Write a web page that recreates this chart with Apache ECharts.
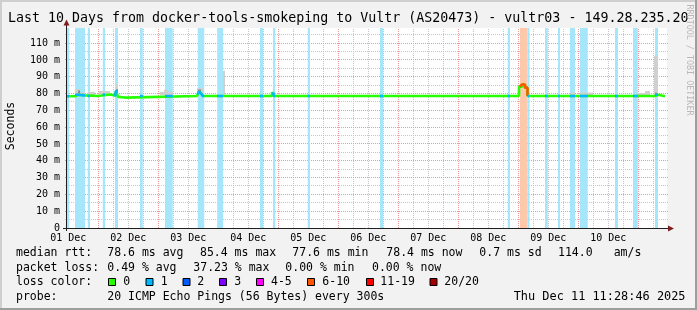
<!DOCTYPE html>
<html>
<head>
<meta charset="utf-8">
<script src="https://cdn.jsdelivr.net/npm/echarts@6/dist/echarts.min.js"></script>
<style>
html,body{margin:0;padding:0;background:#f2f2f2;}
#c{width:697px;height:310px;}
</style>
</head>
<body>
<div id="c"></div>
<script>
// ---------------- data ----------------
const titleText = 'Last 10 Days from docker-tools-smokeping to Vultr (AS20473) - vultr03 - 149.28.235.20';
// x values are hours since chart start (Mon Dec 01 11:28:46)
const dayLabels = ['01 Dec','02 Dec','03 Dec','04 Dec','05 Dec','06 Dec','07 Dec','08 Dec','09 Dec','10 Dec'];
const dayNoonHours = [0.52, 24.52, 48.52, 72.52, 96.52, 120.52, 144.52, 168.52, 192.52, 216.52];
const midnightHours = [12.52, 36.52, 60.52, 84.52, 108.52, 132.52, 156.52, 180.52, 204.52, 228.52];
const yTickValues = [0, 10, 20, 30, 40, 50, 60, 70, 80, 90, 100, 110];

// loss colour classes
const lossNames  = ['0', '1', '2', '3', '4-5', '6-10', '11-19', '20/20'];
const lossColors = ['#26ff00', '#00b8ff', '#0059ff', '#7e00ff', '#ff00ff', '#ff5500', '#ff0000', '#a10000'];
const lossBandColors = ['#ffffff', '#a6e6fb', '#a6c5ff', '#d2a6ff', '#ffa6ff', '#ffc8aa', '#ffa6a6', '#dca6a6'];

// packet loss periods: [startHour, endHour, lossClassIndex]
const lossBands = [
  [0.0, 0.9, 1], [3.2, 7.2, 1], [8.3, 9.2, 1], [14.3, 15.2, 1], [19.2, 20.4, 1],
  [29.2, 30.3, 1], [39.2, 42.3, 1], [52.3, 54.9, 1], [60.1, 62.4, 1], [77.2, 78.4, 1],
  [82.4, 83.3, 1], [96.3, 97.2, 1], [125.2, 126.4, 1], [176.3, 177.2, 1],
  [181.2, 184.3, 5], [184.4, 185.0, 1],
  [191.2, 192.3, 1], [196.4, 197.2, 1], [201.2, 203.2, 1], [205.2, 208.3, 1],
  [219.2, 220.4, 1], [226.4, 228.3, 1], [235.2, 236.4, 1]
];

// median rtt in ms (step changes): [hour, ms]
const medianPts = [
  [0, 78.4], [3.2, 79.3], [4.4, 78.9], [7.2, 78.5], [12.4, 79.0], [13.2, 79.4], [17.2, 78.8], [19.2, 78.3],
  [19.6, 81.5], [20.4, 78.0], [21.2, 77.6], [23.2, 78.5],
  [52.0, 79.4], [52.8, 81.2], [53.6, 80.0], [54.4, 78.5],
  [82.0, 80.8], [82.8, 78.5],
  [180.8, 84.1], [182.0, 85.4], [183.2, 83.5], [184.2, 78.5],
  [235.2, 79.3], [236.4, 78.4], [239.2, 78.4]
];

// smoke (ping spread): [startHour, endHour, lowMs, highMs]
const smokeLight = [
  [3.6, 5.2, 79.0, 82.6], [5.2, 7.2, 79.0, 80.6], [8.4, 11.2, 79.0, 81.0], [12.8, 17.2, 79.5, 81.5],
  [19.6, 20.4, 79.0, 85.6], [37.2, 42.4, 79.0, 81.0], [38.8, 40.4, 80.6, 82.2], [52.0, 54.4, 80.0, 83.2],
  [62.4, 63.2, 79.0, 93.5], [201.2, 203.2, 79.0, 80.6], [205.2, 210.4, 79.0, 80.6],
  [228.0, 231.2, 79.0, 80.3], [231.2, 233.2, 79.0, 81.5], [234.8, 236.4, 79.0, 102.4]
];
const smokeDark = [
  [4.4, 5.2, 80.0, 81.8], [19.6, 20.4, 79.5, 82.5], [52.4, 53.6, 81.0, 82.4], [235.2, 236.0, 79.0, 80.5]
];

// legend statistics
const rttStatValues = [78.6, 85.4, 77.6, 78.4];
const rttStatNames  = ['avg', 'max', 'min', 'now'];
const rttSd = 0.7;
const rttAms = 114.0;
const lossStatValues = [0.49, 37.23, 0.00, 0.00];
const lossStatNames  = ['avg', 'max', 'min', 'now'];
const probeText = '20 ICMP Echo Pings (56 Bytes) every 300s';
const dateText = 'Thu Dec 11 11:28:46 2025';

// ---------------- layout ----------------
const GL = 67, GT = 28, GW = 600, GH = 200;
const XMAX = 240, YMAX = 119;
const MONO = "'DejaVu Sans Mono', monospace";
const FONT_COLOR = '#000000';
const GRID_COLOR = '#c6c6c6';
const MGRID_COLOR = '#eb9a9a';

// grid lines (layout): [kind, value]; kind 0 = vertical minor, 1 = vertical major, 2 = horizontal minor, 3 = horizontal major
const gridLines = [];
for (let h = 0.52; h < XMAX; h += 6) {
  const major = midnightHours.some(m => Math.abs(m - h) < 1e-6);
  gridLines.push([major ? 1 : 0, h]);
}
for (let v = 5; v < YMAX; v += 5) {
  gridLines.push([v % 10 === 0 ? 3 : 2, v]);
}

// median value holding at hour h (step function of medianPts)
function medianAt(h) {
  let v = medianPts[0][1];
  for (const p of medianPts) { if (p[0] <= h) v = p[1]; else break; }
  return v;
}
// median segments during loss periods, coloured by loss class
const lossSegments = lossBands.map(b => {
  const pts = [[b[0], medianAt(b[0])]];
  medianPts.forEach(p => { if (p[0] > b[0] && p[0] < b[1]) pts.push([p[0], p[1]]); });
  pts.push([b[1], medianAt(b[1] - 1e-9)]);
  return {pts: pts, level: b[2]};
});

const chart = echarts.init(document.getElementById('c'), null, {renderer: 'canvas'});

const graphics = [];
// frame
graphics.push({type:'rect', shape:{x:0,y:0,width:697,height:2}, style:{fill:'#cfcfcf'}, silent:true});
graphics.push({type:'rect', shape:{x:0,y:0,width:2,height:310}, style:{fill:'#cfcfcf'}, silent:true});
graphics.push({type:'rect', shape:{x:0,y:308,width:697,height:2}, style:{fill:'#9e9e9e'}, silent:true});
graphics.push({type:'rect', shape:{x:695,y:0,width:2,height:310}, style:{fill:'#9e9e9e'}, silent:true});
// axes
graphics.push({type:'line', shape:{x1:63, y1:GT+GH+0.5, x2:670, y2:GT+GH+0.5}, style:{stroke:'#1f1f1f', lineWidth:1}, z:10, silent:true});
graphics.push({type:'polygon', shape:{points:[[668,GT+GH-2.5],[674,GT+GH+0.5],[668,GT+GH+3.5]]}, style:{fill:'#801f1f'}, z:11, silent:true});
graphics.push({type:'line', shape:{x1:GL-0.5, y1:GT+GH+3, x2:GL-0.5, y2:24}, style:{stroke:'#1f1f1f', lineWidth:1}, z:10, silent:true});
graphics.push({type:'polygon', shape:{points:[[GL-3.5,25.5],[GL-0.5,19.5],[GL+2.5,25.5]]}, style:{fill:'#801f1f'}, z:11, silent:true});
// title
graphics.push({type:'text', x:8, y:19, style:{text:titleText, font:'13.3px ' + MONO, fill:FONT_COLOR, verticalAlign:'middle'}, silent:true});
// axis title
graphics.push({type:'text', x:11, y:126, rotation:Math.PI/2, style:{text:'Seconds', font:'11.5px ' + MONO, fill:FONT_COLOR, align:'center', verticalAlign:'middle'}, silent:true});
// watermark
graphics.push({type:'text', x:689, y:60, rotation:-Math.PI/2, style:{text:'RRDTOOL / TOBI OETIKER', font:'8.4px ' + MONO, fill:'#b8b8b8', align:'center', verticalAlign:'middle'}, silent:true});

// legend text
const LF = '11.5px ' + MONO;
function txt(s, x, y) {
  graphics.push({type:'text', x:x, y:y, style:{text:s, font:LF, fill:FONT_COLOR, verticalAlign:'middle'}, silent:true});
}
const row1 = 253.5, row2 = 268.3, row3 = 281.7, row4 = 296.7;
txt('median rtt:', 16, row1);
const rttX = [107.3, 200, 292.3, 386.3];
rttStatValues.forEach((v, i) => txt(v.toFixed(1) + ' ms ' + rttStatNames[i], rttX[i], row1));
txt(rttSd.toFixed(1) + ' ms sd', 479.3, row1);
txt(rttAms.toFixed(1), 558, row1);
txt('am/s', 613.7, row1);
txt('packet loss:', 16, row2);
const lossX = [107.3, 193.3, 285.3, 372];
lossStatValues.forEach((v, i) => txt(v.toFixed(2) + ' % ' + lossStatNames[i], lossX[i], row2));
txt('loss color:', 16, row3);
const boxX = [108.5, 146, 183, 219.5, 256.5, 307.5, 366.5, 430];
const boxLabelX = [123.3, 160.7, 197.3, 234.3, 271, 322.3, 380.3, 444.3];
lossNames.forEach((n, i) => {
  graphics.push({type:'rect', shape:{x:boxX[i], y:278.5, width:7, height:7}, style:{fill:lossColors[i], stroke:'#000', lineWidth:1}, silent:true});
  txt(n, boxLabelX[i], row3);
});
txt('probe:', 16, row4);
txt(probeText, 107.3, row4);
graphics.push({type:'text', x:513.7, y:row4, style:{text:dateText, font:'11.9px ' + MONO, fill:FONT_COLOR, verticalAlign:'middle'}, silent:true});

function rectRenderer(fill) {
  return (params, api) => {
    const p0 = api.coord([api.value(0), api.value(3)]), p1 = api.coord([api.value(1), api.value(2)]);
    return {type:'rect', shape:{x:p0[0], y:p0[1], width:p1[0]-p0[0], height:p1[1]-p0[1]}, style:{fill:fill}};
  };
}

const series = [
  {
    name: 'grid', type: 'custom', z: 1, clip: false, silent: true,
    data: gridLines,
    renderItem: (params, api) => {
      const kind = api.value(0), v = api.value(1);
      if (kind < 2) {
        const p0 = api.coord([v, 0]), p1 = api.coord([v, YMAX]);
        const x = Math.floor(p0[0]) + 0.5;
        return {type:'line', shape:{x1:x, y1:p0[1], x2:x, y2:p1[1]},
          style:{stroke: kind === 1 ? MGRID_COLOR : GRID_COLOR, lineWidth:1, lineDash:[1,1]}};
      }
      const p0 = api.coord([0, v]), p1 = api.coord([XMAX, v]);
      const y = Math.floor(p0[1]) + 0.5;
      return {type:'line', shape:{x1:p0[0]-2, y1:y, x2:p1[0]+1, y2:y},
        style:{stroke: kind === 3 ? MGRID_COLOR : GRID_COLOR, lineWidth:1, lineDash:[1,1]}};
    }
  },
  {
    name: 'loss', type: 'custom', z: 2, silent: true,
    data: lossBands,
    encode: {x: [0, 1]},
    renderItem: (params, api) => {
      const p0 = api.coord([api.value(0), YMAX]), p1 = api.coord([api.value(1), 0]);
      return {type:'rect', shape:{x:p0[0], y:p0[1], width:p1[0]-p0[0], height:p1[1]-p0[1]},
        style:{fill: lossBandColors[api.value(2)]}};
    }
  },
  {name: 'smokeLight', type: 'custom', z: 3, silent: true, data: smokeLight, encode: {x: [0, 1], y: [2, 3]}, renderItem: rectRenderer('#d0d0d0')},
  {name: 'smokeDark', type: 'custom', z: 3, silent: true, data: smokeDark, encode: {x: [0, 1], y: [2, 3]}, renderItem: rectRenderer('#8c8c8c')},
  {
    name: 'median', type: 'line', z: 4, step: 'end', symbol: 'none', silent: true,
    data: medianPts,
    lineStyle: {width: 2.6, color: lossColors[0], opacity: 1},
    itemStyle: {color: lossColors[0]}
  }
];
lossSegments.forEach((seg, i) => {
  series.push({
    name: 'medianLoss' + i, type: 'line', z: 5, step: 'end', symbol: 'none', silent: true,
    data: seg.pts,
    lineStyle: {width: 2.6, color: lossColors[seg.level], opacity: 1},
    itemStyle: {color: lossColors[seg.level]}
  });
});

const option = {
  animation: false,
  backgroundColor: '#f2f2f2',
  grid: {left: GL, top: GT, width: GW, height: GH, show: true, backgroundColor: '#ffffff', borderWidth: 0},
  xAxis: {
    type: 'value', min: 0, max: XMAX,
    axisLine: {show: false}, axisTick: {show: false}, splitLine: {show: false},
    axisLabel: {
      customValues: dayNoonHours,
      formatter: v => { const i = dayNoonHours.findIndex(h => Math.abs(h - v) < 1e-6); return i >= 0 ? dayLabels[i] : ''; },
      fontFamily: MONO, fontSize: 10, color: FONT_COLOR, margin: 5
    }
  },
  yAxis: {
    type: 'value', min: 0, max: YMAX, interval: 10,
    axisLine: {show: false}, axisTick: {show: false}, splitLine: {show: false},
    axisLabel: {
      customValues: yTickValues,
      formatter: v => v === 0 ? '0' : v + ' m',
      fontFamily: MONO, fontSize: 10, color: FONT_COLOR, margin: 7
    }
  },
  series: series,
  graphic: graphics
};
chart.setOption(option);
</script>
</body>
</html>
